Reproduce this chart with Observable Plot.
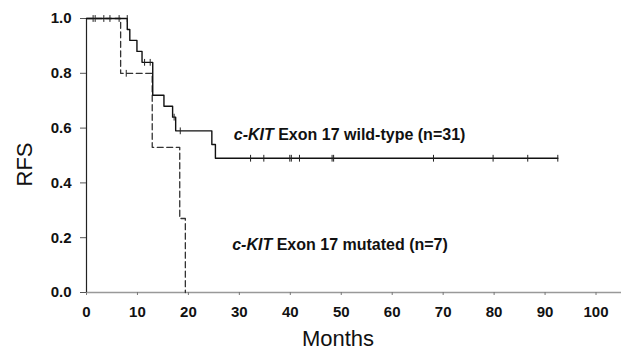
<!DOCTYPE html>
<html>
<head>
<meta charset="utf-8">
<script src="https://cdn.jsdelivr.net/npm/d3@7"></script>
<script src="https://cdn.jsdelivr.net/npm/@observablehq/plot@0.6"></script>
<style>
  html, body { margin: 0; padding: 0; background: #fff; }
  #chart svg { display: block; }
</style>
</head>
<body>
<div id="chart"></div>
<script>
// Wild-type (n=31) Kaplan–Meier steps
const wtTime = [0, 8.0, 8.5, 9.9, 10.9, 13.0, 15.2, 16.9, 17.5, 24.6, 25.3, 92.5];
const wtSurv = [1.0, 0.96, 0.92, 0.88, 0.84, 0.72, 0.68, 0.64, 0.59, 0.54, 0.49, 0.49];
// Wild-type censored observations
const wtCensorTime = [1.3, 1.7, 3.4, 4.6, 6.4, 8.0, 11.4, 12.5, 17.2, 18.4, 32.2, 34.8, 39.9, 40.2, 41.8, 48.2, 48.5, 68.1, 79.8, 86.6, 92.5];
const wtCensorSurv = [1.0, 1.0, 1.0, 1.0, 1.0, 1.0, 0.84, 0.84, 0.64, 0.59, 0.49, 0.49, 0.49, 0.49, 0.49, 0.49, 0.49, 0.49, 0.49, 0.49, 0.49];
// Mutated (n=7) Kaplan–Meier steps
const mutTime = [0, 6.7, 12.9, 18.3, 19.4];
const mutSurv = [1.0, 0.8, 0.53, 0.27, 0.0];
const mutCensorTime = [7.8];
const mutCensorSurv = [0.8];
// Axis ticks
const xTicks = [0, 10, 20, 30, 40, 50, 60, 70, 80, 90, 100];
const yTicks = [0, 0.2, 0.4, 0.6, 0.8, 1.0];
// Annotations
const labels = ["c-KIT Exon 17 wild-type (n=31)", "c-KIT Exon 17 mutated (n=7)"];
const labelTime = [28.9, 28.6];
const labelSurv = [0.575, 0.174];

const wt = wtTime.map((t, i) => ({t, s: wtSurv[i]}));
const mut = mutTime.map((t, i) => ({t, s: mutSurv[i]}));
const cens = wtCensorTime.map((t, i) => ({t, s: wtCensorSurv[i]}))
  .concat(mutCensorTime.map((t, i) => ({t, s: mutCensorSurv[i]})));
const ann = labels.map((text, i) => ({text, t: labelTime[i], s: labelSurv[i]}));

const tickShape = {draw(context, l) { context.moveTo(0, 0); context.lineTo(0, -l); }};

const chart = Plot.plot({
  width: 621,
  height: 350,
  marginLeft: 86,
  marginRight: 0,
  marginTop: 18,
  marginBottom: 58,
  style: {fontFamily: "'Liberation Sans', Arial, Helvetica, sans-serif", fontSize: "14px", background: "#fff", color: "#000", overflow: "hidden"},
  x: {domain: [0, 105]},
  y: {domain: [0, 1]},
  marks: [
    Plot.ruleY([0], {stroke: "#999", strokeWidth: 1.5}),
    Plot.ruleX([0], {stroke: "#222", strokeWidth: 1.2}),
    Plot.axisX({ticks: xTicks, tickSize: 3, tickPadding: 11, stroke: "#777", fontWeight: "bold", fontSize: 15, letterSpacing: "0.5px", fill: "#111", label: null}),
    Plot.axisY({ticks: yTicks, tickSize: 6, tickPadding: 9, stroke: "#555", tickFormat: d3.format(".1f"), fontWeight: "bold", fontSize: 15, letterSpacing: "0.5px", fill: "#111", label: null}),
    Plot.line(mut, {x: "t", y: "s", curve: "step-after", stroke: "#333", strokeWidth: 1.3, strokeDasharray: "6,3.5"}),
    Plot.line(wt, {x: "t", y: "s", curve: "step-after", stroke: "#111", strokeWidth: 1.4}),
    Plot.vector(cens, {x: "t", y: "s", length: 6, anchor: "middle", shape: tickShape, stroke: "#222", strokeWidth: 1}),
    Plot.text(ann, {x: "t", y: "s", text: "text", textAnchor: "start", fontWeight: "bold", fontSize: 16, letterSpacing: "0.5px", fill: "#111", className: "ann"}),
    Plot.text(["RFS"], {frameAnchor: "left", textAnchor: "middle", lineAnchor: "middle", dx: -62, dy: 9, rotate: -90, fontSize: 22, letterSpacing: "-1.5px", fill: "#111"}),
    Plot.text(["Months"], {frameAnchor: "bottom", textAnchor: "middle", lineAnchor: "bottom", dx: -16, dy: 53, fontSize: 22, letterSpacing: "4.5px", fill: "#111"})
  ]
});

// Italicise the gene name in the annotations
d3.select(chart).selectAll("g.ann text").each(function() {
  const full = this.textContent;
  const m = full.match(/^(c-KIT)(.*)$/);
  if (!m) return;
  this.textContent = "";
  const sel = d3.select(this);
  sel.append("tspan").attr("font-style", "italic").text(m[1]);
  sel.append("tspan").text(m[2]);
});

document.getElementById("chart").appendChild(chart);
</script>
</body>
</html>
